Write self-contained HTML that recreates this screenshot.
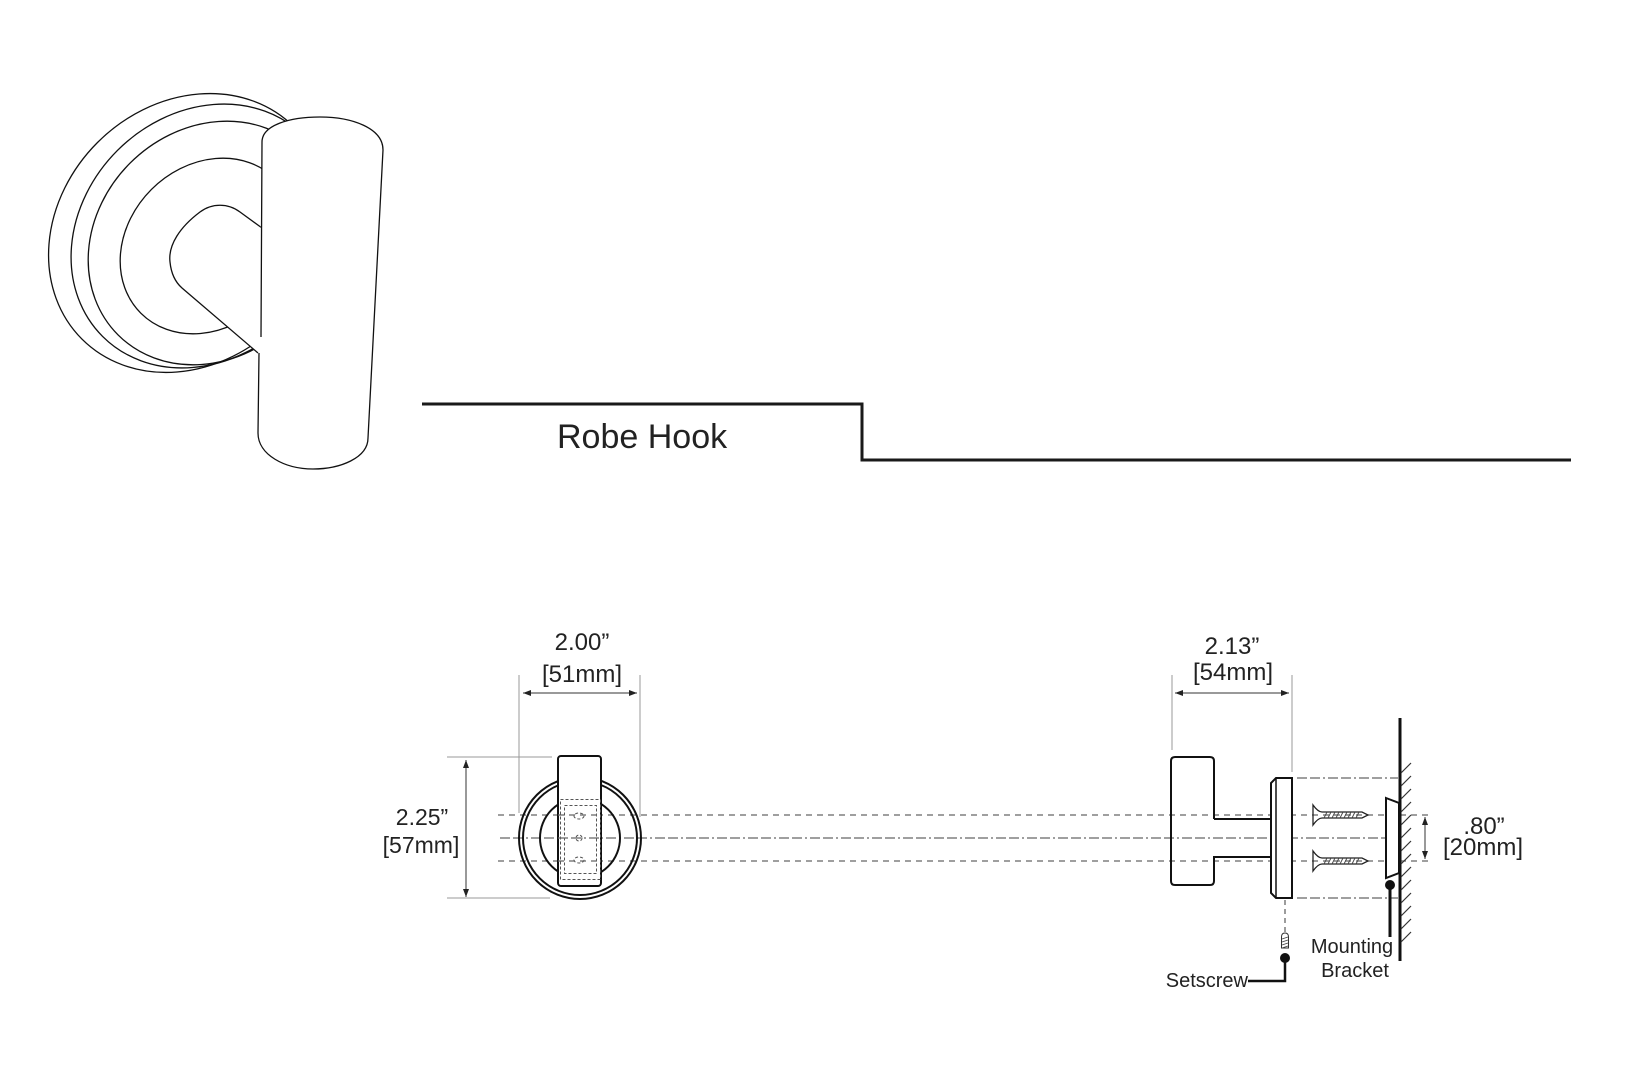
<!DOCTYPE html>
<html>
<head>
<meta charset="utf-8">
<style>
html,body{margin:0;padding:0;background:#fff;}
svg{display:block;}
text{font-family:"Liberation Sans",Arial,sans-serif;fill:#222;}
</style>
</head>
<body>
<svg width="1625" height="1080" viewBox="0 0 1625 1080" xmlns="http://www.w3.org/2000/svg">
<rect width="1625" height="1080" fill="#fff"/>

<!-- ===== Perspective robe hook (top-left) ===== -->
<g fill="none" stroke="#111" stroke-width="1.3">
  <ellipse cx="0" cy="0" rx="150" ry="128" transform="translate(188,233) rotate(-45)"/>
  <ellipse cx="0" cy="0" rx="142" ry="121" transform="translate(203,236) rotate(-45)"/>
  <ellipse cx="0" cy="0" rx="130" ry="113" transform="translate(210,243) rotate(-45)"/>
  <ellipse cx="0" cy="0" rx="95" ry="80" transform="translate(208,246) rotate(-45)"/>
</g>
<!-- arm -->
<path d="M262,228 L240,212 C228,203 212,203 200,212 C180,227 168,245 170,262 C171,272 174,281 182,288 L258,353 L262,353 Z" fill="#fff" stroke="none"/>
<path d="M262,228 L240,212 C228,203 212,203 200,212 C180,227 168,245 170,262 C171,272 174,281 182,288 L258,353" fill="none" stroke="#111" stroke-width="1.3"/>
<!-- bar -->
<path d="M262,142 C262,125 290,117 320,117 C352,117 383,128 383,150 L368,438 C368,458 340,469 313,469 C285,469 258,455 258,433 Z" fill="#fff" stroke="none"/>
<path d="M259,353 L258,433 C258,455 285,469 313,469 C340,469 368,458 368,438 L383,150 C383,128 352,117 320,117 C290,117 262,125 262,142 L261,337" fill="none" stroke="#111" stroke-width="1.3"/>

<!-- ===== Title line ===== -->
<polyline points="422,404 862,404 862,460 1571,460" fill="none" stroke="#1a1a1a" stroke-width="3"/>
<text x="557" y="448" font-size="34">Robe Hook</text>

<!-- ===== Centerlines across views ===== -->
<g stroke="#666" stroke-width="1.3" fill="none">
  <line x1="498" y1="815" x2="1433" y2="815" stroke-dasharray="6 5"/>
  <line x1="498" y1="861" x2="1433" y2="861" stroke-dasharray="6 5"/>
  <line x1="500" y1="838" x2="1387" y2="838" stroke-dasharray="10 3 10 3 2 3"/>
  <line x1="1297" y1="778" x2="1398" y2="778" stroke-dasharray="10 3 10 3 2 3"/>
  <line x1="1297" y1="898" x2="1398" y2="898" stroke-dasharray="10 3 10 3 2 3"/>
</g>

<!-- ===== Front view (left) ===== -->
<g fill="none" stroke="#111" stroke-width="2">
  <circle cx="580" cy="838" r="61"/>
  <circle cx="580" cy="838" r="57"/>
  <circle cx="580" cy="838" r="40"/>
</g>
<rect x="558" y="756" width="43" height="130" rx="3" fill="#fff" stroke="#111" stroke-width="2"/>
<g fill="none" stroke="#555" stroke-width="1" stroke-dasharray="3 2">
  <rect x="560.5" y="799.5" width="40" height="80"/>
  <rect x="564.5" y="805.5" width="32" height="68"/>
  <ellipse cx="579" cy="816" rx="5" ry="3"/>
  <ellipse cx="579" cy="860" rx="5" ry="3"/>
  <circle cx="579" cy="838" r="3"/>
</g>
<!-- re-draw centerlines over bar -->
<g stroke="#666" stroke-width="1.3" fill="none">
  <line x1="558" y1="815" x2="601" y2="815" stroke-dasharray="6 5"/>
  <line x1="558" y1="861" x2="601" y2="861" stroke-dasharray="6 5"/>
  <line x1="558" y1="838" x2="601" y2="838" stroke-dasharray="10 3 10 3 2 3"/>
</g>

<!-- Dimensions left view -->
<g stroke="#999" stroke-width="1">
  <line x1="519" y1="675" x2="519" y2="813"/>
  <line x1="640" y1="675" x2="640" y2="817"/>
  <line x1="447" y1="757" x2="552" y2="757"/>
  <line x1="447" y1="898" x2="550" y2="898"/>
</g>
<g stroke="#333" stroke-width="1">
  <line x1="523" y1="693" x2="637" y2="693"/>
  <line x1="466" y1="760" x2="466" y2="897"/>
</g>
<g fill="#222">
  <polygon points="523,693 531,690 531,696"/>
  <polygon points="637,693 629,690 629,696"/>
  <polygon points="466,760 463,768 469,768"/>
  <polygon points="466,897 463,889 469,889"/>
</g>
<text x="582" y="650" font-size="24" text-anchor="middle">2.00”</text>
<text x="582" y="682" font-size="24" text-anchor="middle">[51mm]</text>
<text x="422" y="825" font-size="23" text-anchor="middle">2.25”</text>
<text x="421" y="853" font-size="23" text-anchor="middle">[57mm]</text>

<!-- ===== Side view (right) ===== -->
<path d="M1214,819 L1214,761 Q1214,757 1210,757 L1175,757 Q1171,757 1171,761 L1171,881 Q1171,885 1175,885 L1210,885 Q1214,885 1214,881 L1214,857 L1271,857 M1214,819 L1271,819" fill="none" stroke="#111" stroke-width="2"/>
<polygon points="1276,778 1292,778 1292,898 1276,898 1271,893 1271,783" fill="#fff" stroke="#111" stroke-width="2"/>
<line x1="1276" y1="778" x2="1276" y2="898" stroke="#111" stroke-width="1.5"/>

<!-- screws -->
<g fill="none" stroke="#222" stroke-width="1.3">
  <path d="M1313,805 L1313,825 Q1318,818 1322,818 L1362,818 L1368,815 L1362,812 L1322,812 Q1318,812 1313,805 Z"/>
  <path d="M1313,851 L1313,871 Q1318,864 1322,864 L1362,864 L1368,861 L1362,858 L1322,858 Q1318,858 1313,851 Z"/>
</g>
<g stroke="#444" stroke-width="0.9">
  <path d="M1324,818 l3,-6 M1328,818 l3,-6 M1332,818 l3,-6 M1336,818 l3,-6 M1340,818 l3,-6 M1344,818 l3,-6 M1348,818 l3,-6 M1352,818 l3,-6 M1356,818 l3,-6"/>
  <path d="M1324,864 l3,-6 M1328,864 l3,-6 M1332,864 l3,-6 M1336,864 l3,-6 M1340,864 l3,-6 M1344,864 l3,-6 M1348,864 l3,-6 M1352,864 l3,-6 M1356,864 l3,-6"/>
</g>

<!-- wall -->
<line x1="1400" y1="718" x2="1400" y2="961" stroke="#111" stroke-width="3"/>
<g stroke="#333" stroke-width="1.2">
  <line x1="1401" y1="773" x2="1411" y2="763"/>
  <line x1="1401" y1="786" x2="1411" y2="776"/>
  <line x1="1401" y1="799" x2="1411" y2="789"/>
  <line x1="1401" y1="812" x2="1411" y2="802"/>
  <line x1="1401" y1="825" x2="1411" y2="815"/>
  <line x1="1401" y1="838" x2="1411" y2="828"/>
  <line x1="1401" y1="851" x2="1411" y2="841"/>
  <line x1="1401" y1="864" x2="1411" y2="854"/>
  <line x1="1401" y1="877" x2="1411" y2="867"/>
  <line x1="1401" y1="890" x2="1411" y2="880"/>
  <line x1="1401" y1="903" x2="1411" y2="893"/>
  <line x1="1401" y1="916" x2="1411" y2="906"/>
  <line x1="1401" y1="929" x2="1411" y2="919"/>
  <line x1="1401" y1="942" x2="1411" y2="932"/>
</g>
<!-- bracket -->
<polygon points="1386,798 1399,803 1399,873 1386,878" fill="#fff" stroke="#111" stroke-width="2"/>
<circle cx="1390" cy="885" r="5" fill="#111"/>
<line x1="1390" y1="885" x2="1390" y2="937" stroke="#111" stroke-width="3"/>

<!-- setscrew -->
<line x1="1285" y1="900" x2="1285" y2="932" stroke="#666" stroke-width="1.3" stroke-dasharray="5 4"/>
<path d="M1281.5,948 L1281.5,937 Q1281.5,933 1285,933 Q1288.5,933 1288.5,937 L1288.5,948 Z" fill="#fff" stroke="#333" stroke-width="1"/>
<g stroke="#444" stroke-width="0.8">
  <path d="M1282,939 l6,-2 M1282,942 l6,-2 M1282,945 l6,-2 M1282,948 l6,-2"/>
</g>
<circle cx="1285" cy="958" r="5" fill="#111"/>
<polyline points="1285,958 1285,981 1248,981" fill="none" stroke="#111" stroke-width="2.5"/>

<!-- dims right view -->
<g stroke="#999" stroke-width="1">
  <line x1="1172" y1="675" x2="1172" y2="750"/>
  <line x1="1292" y1="675" x2="1292" y2="772"/>
</g>
<g stroke="#333" stroke-width="1">
  <line x1="1175" y1="693" x2="1289" y2="693"/>
  <line x1="1425" y1="817" x2="1425" y2="859"/>
</g>
<g fill="#222">
  <polygon points="1175,693 1183,690 1183,696"/>
  <polygon points="1289,693 1281,690 1281,696"/>
  <polygon points="1425,817 1422,825 1428,825"/>
  <polygon points="1425,859 1422,851 1428,851"/>
</g>
<text x="1232" y="654" font-size="24" text-anchor="middle">2.13”</text>
<text x="1233" y="680" font-size="24" text-anchor="middle">[54mm]</text>
<text x="1484" y="834" font-size="24" text-anchor="middle">.80”</text>
<text x="1483" y="855" font-size="24" text-anchor="middle">[20mm]</text>
<text x="1352" y="953" font-size="20" text-anchor="middle">Mounting</text>
<text x="1355" y="977" font-size="20" text-anchor="middle">Bracket</text>
<text x="1248" y="987" font-size="20" text-anchor="end">Setscrew</text>
</svg>
</body>
</html>
